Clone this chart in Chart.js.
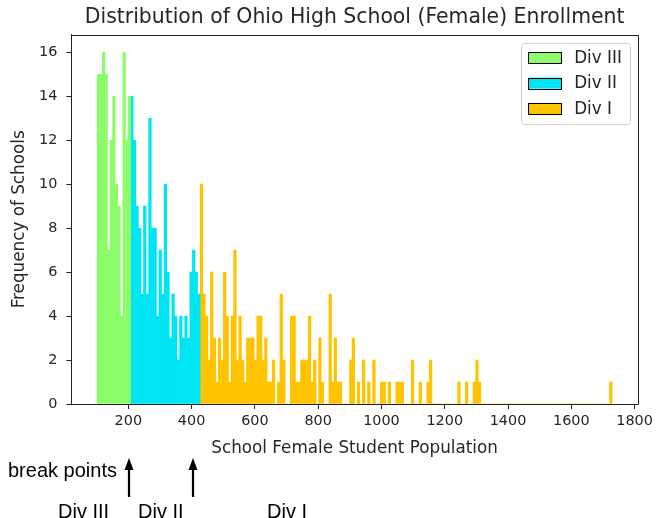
<!DOCTYPE html>
<html>
<head>
<meta charset="utf-8">
<title>Ohio High School Female Enrollment</title>
<script src="https://cdn.jsdelivr.net/npm/chart.js@4.4.1/dist/chart.umd.min.js"></script>
<style>
  html, body { margin: 0; padding: 0; background: #ffffff; }
  #wrap { position: relative; width: 657px; height: 518px; overflow: hidden; }
  canvas { display: block; }
</style>
</head>
<body>
<div id="wrap"><canvas id="chart" width="657" height="518"></canvas></div>
<script>
// Histogram of female enrollment: 200 equal bins between the smallest and largest school.
const enrollmentMin = 101.5;
const enrollmentMax = 1729;
const binCount = 200;

// Schools per bin, split by division (bins 0-12, 13-39, 40-199).
const divIIICounts = [15, 15, 16, 15, 7, 12, 14, 10, 9, 4, 16, 12, 14];
const divIICounts = [
  14, 12, 9, 8, 5, 9, 5, 13, 8, 8,
  4, 7, 5, 10, 6, 3, 5, 4, 2, 4,
  3, 4, 3, 6, 7, 6, 5
];
const divICounts = [
  10, 5, 4, 2, 6, 3, 1, 3, 2, 6,
  4, 1, 4, 7, 2, 4, 2, 1, 3, 3,
  3, 2, 4, 4, 2, 3, 1, 1, 2, 0,
  1, 5, 2, 0, 0, 4, 4, 1, 1, 2,
  2, 2, 4, 1, 2, 0, 3, 1, 0, 0,
  5, 1, 3, 1, 1, 0, 0, 0, 2, 3,
  0, 1, 0, 2, 0, 1, 0, 2, 0, 0,
  1, 1, 0, 1, 0, 0, 1, 1, 1, 0,
  0, 0, 2, 0, 0, 1, 0, 0, 1, 2,
  0, 0, 0, 0, 0, 0, 0, 0, 0, 0,
  1, 0, 0, 1, 0, 0, 1, 2, 1, 0,
  0, 0, 0, 0, 0, 0, 0, 0, 0, 0,
  0, 0, 0, 0, 0, 0, 0, 0, 0, 0,
  0, 0, 0, 0, 0, 0, 0, 0, 0, 0,
  0, 0, 0, 0, 0, 0, 0, 0, 0, 0,
  0, 0, 0, 0, 0, 0, 0, 0, 0, 1
];

const divisionLabels = ['Div III', 'Div II', 'Div I'];
const divisionColors = ['#8cfc6a', '#00e5f3', '#ffc300'];

const xTicks = [200, 400, 600, 800, 1000, 1200, 1400, 1600, 1800];
const yTicks = [0, 2, 4, 6, 8, 10, 12, 14, 16];

// Annotation under the axis: where the division cut-offs fall.
const breakPointValues = [201, 405];

const binWidth = (enrollmentMax - enrollmentMin) / binCount;

function toBins(counts, firstBin) {
  return counts.map((c, i) => ({ x: enrollmentMin + (firstBin + i + 0.5) * binWidth, y: c }));
}

const seriesCounts = [divIIICounts, divIICounts, divICounts];
let offset = 0;
const datasets = seriesCounts.map((counts, k) => {
  const ds = {
    label: divisionLabels[k],
    data: toBins(counts, offset),
    backgroundColor: divisionColors[k],
    borderWidth: 0,
    grouped: false,
    barPercentage: 1,
    categoryPercentage: 1
  };
  offset += counts.length;
  return ds;
});

const FONT = "'DejaVu Sans', sans-serif";
const TEXT = '#262626';

// Top and right spines so the axes form a closed box.
const frame = {
  id: 'frame',
  afterDraw(chart) {
    const { ctx, chartArea: a } = chart;
    ctx.save();
    ctx.strokeStyle = '#222';
    ctx.lineWidth = 1;
    ctx.beginPath();
    ctx.moveTo(Math.round(a.left) + 0.5, Math.round(a.top) + 0.5);
    ctx.lineTo(Math.round(a.right) + 0.5, Math.round(a.top) + 0.5);
    ctx.lineTo(Math.round(a.right) + 0.5, Math.round(a.bottom) + 0.5);
    ctx.stroke();
    ctx.restore();
  }
};

// Legend box in the upper right corner of the plot.
const cornerLegend = {
  id: 'cornerLegend',
  afterDraw(chart) {
    const { ctx, chartArea: a } = chart;
    const fs = 16.8;
    const boxW = 109, boxH = 81;
    const right = a.right - 8.2, top = a.top + 8;
    const left = right - boxW;
    ctx.save();
    ctx.fillStyle = 'rgba(255,255,255,0.85)';
    ctx.strokeStyle = '#d0d0d0';
    ctx.lineWidth = 1;
    ctx.beginPath();
    ctx.roundRect(Math.round(left) + 0.5, Math.round(top) + 0.5, boxW, boxH, 3);
    ctx.fill();
    ctx.stroke();
    ctx.font = fs + 'px ' + FONT;
    ctx.textBaseline = 'middle';
    ctx.textAlign = 'left';
    chart.data.datasets.forEach((ds, i) => {
      const cy = top + 15 + i * 25.4;
      const sx = left + 7.5;
      ctx.fillStyle = ds.backgroundColor;
      ctx.fillRect(sx, cy - 5.5, 33, 11);
      ctx.strokeStyle = '#000';
      ctx.strokeRect(Math.round(sx) + 0.5, Math.round(cy - 5.5) + 0.5, 33, 11);
      ctx.fillStyle = TEXT;
      ctx.fillText(ds.label, sx + 46, cy + 1);
    });
    ctx.restore();
  }
};

// Chart title and the break-point notes below the x axis.
const notes = {
  id: 'notes',
  afterDraw(chart) {
    const { ctx, chartArea: a, scales } = chart;
    ctx.save();
    ctx.fillStyle = TEXT;
    ctx.textAlign = 'center';
    ctx.textBaseline = 'alphabetic';
    ctx.font = '20.4px ' + FONT;
    ctx.fillText('Distribution of Ohio High School (Female) Enrollment', (a.left + a.right) / 2, 23);

    ctx.fillStyle = '#000';
    ctx.strokeStyle = '#000';
    ctx.font = "20px 'Liberation Sans', Arial, sans-serif";
    ctx.textAlign = 'left';
    ctx.fillText('break points', 8, 477);
    breakPointValues.forEach(v => {
      const x = Math.round(scales.x.getPixelForValue(v));
      ctx.lineWidth = 2.2;
      ctx.beginPath();
      ctx.moveTo(x, 497);
      ctx.lineTo(x, 467);
      ctx.stroke();
      ctx.beginPath();
      ctx.moveTo(x, 458);
      ctx.lineTo(x - 4.5, 470);
      ctx.lineTo(x + 4.5, 470);
      ctx.closePath();
      ctx.fill();
    });
    ctx.textBaseline = 'top';
    ctx.fillText('Div III', 58, 502);
    ctx.fillText('Div II', 138, 502);
    ctx.fillText('Div I', 267, 502);
    ctx.restore();
  }
};

new Chart(document.getElementById('chart'), {
  type: 'bar',
  data: { datasets },
  options: {
    responsive: false,
    animation: false,
    devicePixelRatio: 1,
    layout: { padding: { left: 0, right: 15.8, top: 34.7, bottom: 0 } },
    plugins: {
      legend: { display: false },
      title: { display: false },
      tooltip: { enabled: false }
    },
    scales: {
      x: {
        type: 'linear',
        min: 20.1,
        max: 1810.3,
        offset: false,
        afterBuildTicks(scale) { scale.ticks = xTicks.map(v => ({ value: v })); },
        afterFit(scale) { scale.height = 114; },
        grid: { display: true, offset: false, drawOnChartArea: false, drawTicks: true, tickLength: 5, tickColor: '#222' },
        border: { display: true, color: '#222', width: 1 },
        ticks: {
          font: { family: FONT, size: 14.4 }, color: TEXT, padding: 4, maxRotation: 0, autoSkip: false,
          callback: v => String(v)
        },
        title: {
          display: true,
          text: 'School Female Student Population',
          font: { family: FONT, size: 16.8 },
          color: TEXT,
          padding: { top: 0, bottom: 59 }
        }
      },
      y: {
        min: 0,
        max: 16.8,
        afterBuildTicks(scale) { scale.ticks = yTicks.map(v => ({ value: v })); },
        afterFit(scale) { scale.width = 71.4; },
        grid: { display: true, drawOnChartArea: false, drawTicks: true, tickLength: 5, tickColor: '#222' },
        border: { display: true, color: '#222', width: 1 },
        ticks: { font: { family: FONT, size: 14.4 }, color: TEXT, padding: 9, callback: v => String(v) },
        title: {
          display: true,
          text: 'Frequency of Schools',
          font: { family: FONT, size: 16.8 },
          color: TEXT,
          padding: { top: 10, bottom: 0 }
        }
      }
    }
  },
  plugins: [frame, cornerLegend, notes]
});
</script>
</body>
</html>
